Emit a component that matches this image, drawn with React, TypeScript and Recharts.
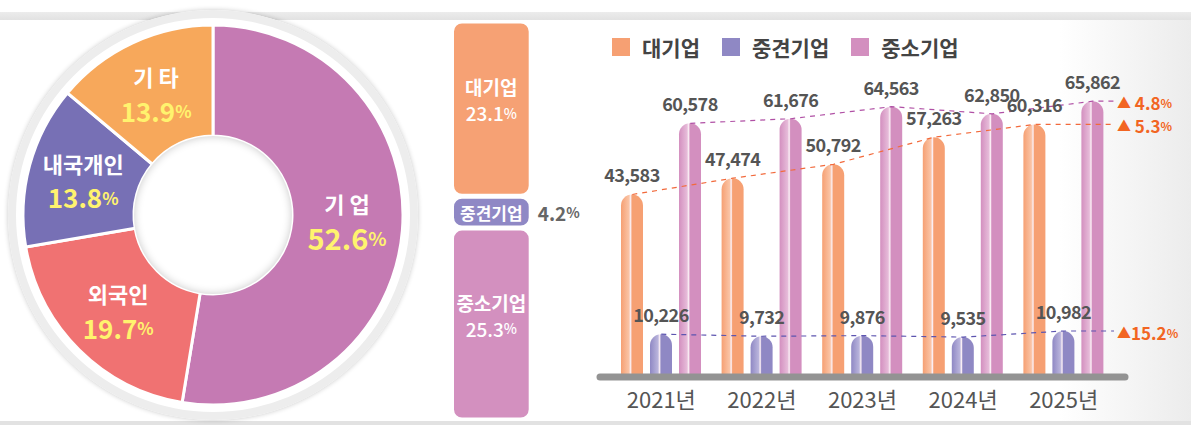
import React from "react";
import {
  PieChart,
  Pie,
  Cell,
  BarChart,
  Bar,
  ComposedChart,
  XAxis,
  YAxis,
  Line,
  LabelList,
  Rectangle,
} from "recharts";

const FONT = '"Noto Sans CJK KR", "Noto Sans", sans-serif';

// 주주 구성 (도넛)
const holderNames = ["기 업", "외국인", "내국개인", "기 타"];
const holderShares = [52.6, 19.7, 13.8, 13.9];
const holderColors = ["#c57ab3", "#f07272", "#7770b5", "#f7a85b"];

// 기업 규모별 비중 (가운데 막대)
const firmNames = ["대기업", "중견기업", "중소기업"];
const firmShares = [23.1, 4.2, 25.3];
const firmColors = ["#f6a174", "#8f88c5", "#d390bf"];

// 연도별 추이
const years = ["2021년", "2022년", "2023년", "2024년", "2025년"];
const largeFirms = [43583, 47474, 50792, 57263, 60316];
const midFirms = [10226, 9732, 9876, 9535, 10982];
const smallFirms = [60578, 61676, 64563, 62850, 65862];
const growthRates = ["5.3", "15.2", "4.8"];

const series = [
  { key: "large", name: firmNames[0], values: largeFirms, color: "#f6a073", light: "#fac4a6", line: "#f26a3c", growth: growthRates[0] },
  { key: "mid", name: firmNames[1], values: midFirms, color: "#8f88c4", light: "#b9b4dc", line: "#5d55b0", growth: growthRates[1] },
  { key: "small", name: firmNames[2], values: smallFirms, color: "#d38fbf", light: "#e6bbd9", line: "#b050a5", growth: growthRates[2] },
];

// 오른쪽 차트 치수
const W = 601;
const H = 425;
const M = { top: 42, right: 66, bottom: 0, left: 10 };
const PAD = 11;
const BAR = 22;
const GAP = 7;
const band = (W - M.left - M.right - 2 * PAD) / years.length;
const numDomain = [-PAD / band, years.length + PAD / band];

const barData = years.map((y, i) => ({
  year: y,
  large: largeFirms[i],
  mid: midFirms[i],
  small: smallFirms[i],
}));

// 추세선: 막대 중심 + 마지막 범주 끝까지 연장
const lineData = (k: number) => {
  const s = series[k];
  const shift = ((k - 1) * (BAR + GAP)) / band;
  const pts: any[] = s.values.map((v, i) => ({ x: i + 0.5 + shift, v }));
  pts.push({ x: years.length, v: s.values[s.values.length - 1], tag: s.growth });
  return pts;
};

const holderData = holderNames.map((n, i) => ({ name: n, value: holderShares[i] }));
const firmData = [{ name: "share", large: firmShares[0], mid: firmShares[1], small: firmShares[2] }];

const RADIAN = Math.PI / 180;
const holderLabel = (p: any) => {
  const r = (p.innerRadius + p.outerRadius) / 2;
  const x = p.cx + r * Math.cos(-p.midAngle * RADIAN);
  const y = p.cy + r * Math.sin(-p.midAngle * RADIAN);
  const big = p.index === 0;
  const name = p.payload?.name ?? p.name;
  return (
    <g>
      <text x={x} y={big ? y - 23 : y - 17} textAnchor="middle" dominantBaseline="central" fill="#fff" fontSize={22} fontWeight={700} fontFamily={FONT}>
        {name}
      </text>
      <text x={x} y={big ? y + 11 : y + 17} textAnchor="middle" dominantBaseline="central" fill="#fff36e" fontSize={big ? 29 : 26} fontWeight={700} fontFamily={FONT}>
        {p.value}
        <tspan fontSize={big ? 19 : 17}>%</tspan>
      </text>
    </g>
  );
};

const box = (p: any) => {
  const v = p.viewBox ?? p;
  return { x: v.x ?? p.x, y: v.y ?? p.y, w: v.width ?? p.width ?? 0, h: v.height ?? p.height ?? 0 };
};

const firmLabel = (i: number) => (p: any) => {
  const b = box(p);
  const cx = b.x + b.w / 2;
  const cy = b.y + b.h / 2;
  if (i === 1) {
    return (
      <g fontFamily={FONT} fontWeight={700}>
        <text x={cx} y={cy} textAnchor="middle" dominantBaseline="central" fill="#fff" fontSize={17}>
          {firmNames[i]}
        </text>
        <text x={b.x + b.w + 9} y={cy} dominantBaseline="central" fill="#666" fontSize={19}>
          {firmShares[i]}
          <tspan fontSize={14}>%</tspan>
        </text>
      </g>
    );
  }
  return (
    <g fontFamily={FONT} fill="#fff">
      <text x={cx} y={cy - 22} textAnchor="middle" dominantBaseline="central" fontSize={19} fontWeight={700}>
        {firmNames[i]}
      </text>
      <text x={cx} y={cy + 4} textAnchor="middle" dominantBaseline="central" fontSize={19} fontWeight={500}>
        {firmShares[i]}
        <tspan fontSize={14}>%</tspan>
      </text>
    </g>
  );
};

const firmBar = (p: any) => (
  <Rectangle x={p.x} y={p.y + 2.5} width={p.width} height={Math.max(p.height - 5, 0)} radius={8} fill={p.fill} />
);

const roundedBar = (p: any) => (
  <Rectangle
    x={p.x}
    y={p.y}
    width={p.width}
    height={Math.max(p.height - 3, 0)}
    radius={[p.width / 2, p.width / 2, 0, 0]}
    fill={p.fill}
  />
);

const growthLabel = (p: any) => {
  if (p.value == null || p.value === "") return null;
  const b = box(p);
  const spaced = p.value !== "15.2";
  return (
    <text x={b.x + 3} y={b.y + 1} dominantBaseline="central" fill="#f26522" fontFamily={FONT} fontWeight={700} fontSize={17}>
      <tspan fontSize={14}>▲</tspan>
      {spaced ? " " : ""}
      {p.value}
      <tspan fontSize={12}>%</tspan>
    </text>
  );
};

const fmt = (v: any) => Number(v).toLocaleString("en-US");

export default function App() {
  return (
    <div style={{ position: "absolute", left: 0, top: 0, width: 1191, height: 425, background: "#fff", fontFamily: FONT, overflow: "hidden" }}>
      {/* 장식 띠 */}
      <div style={{ position: "absolute", left: 0, top: 12, width: 1191, height: 8, background: "linear-gradient(#ececec, #e2e2e2)" }} />
      <div style={{ position: "absolute", left: 0, top: 421, width: 1191, height: 4, background: "#e2e2e2" }} />
      <div style={{ position: "absolute", left: 1060, top: 20, width: 131, height: 401, background: "linear-gradient(to right, rgba(240,240,240,0), #ececec)" }} />

      {/* 도넛 테두리 */}
      <div
        style={{
          position: "absolute",
          left: 8,
          top: 10,
          width: 410,
          height: 410,
          borderRadius: "50%",
          background: "#fff",
          boxShadow: "0 0 5px rgba(0,0,0,0.22), inset 0 0 0 8px #ededed",
        }}
      />
      <div style={{ position: "absolute", left: 0, top: 0 }}>
        <PieChart width={430} height={425} margin={{ top: 0, right: 0, bottom: 0, left: 0 }}>
          <Pie
            data={holderData}
            dataKey="value"
            nameKey="name"
            cx={213}
            cy={215}
            innerRadius={79}
            outerRadius={190}
            startAngle={90}
            endAngle={-270}
            stroke="#fff"
            strokeWidth={3}
            label={holderLabel}
            labelLine={false}
            isAnimationActive={false}
          >
            {holderData.map((d, i) => (
              <Cell key={d.name} fill={holderColors[i]} />
            ))}
          </Pie>
        </PieChart>
      </div>
      <div
        style={{
          position: "absolute",
          left: 213 - 79,
          top: 215 - 79,
          width: 158,
          height: 158,
          borderRadius: "50%",
          background: "#fff",
          boxShadow: "inset 0 0 8px rgba(0,0,0,0.22)",
        }}
      />

      {/* 기업 규모별 비중 */}
      <div style={{ position: "absolute", left: 440, top: 0 }}>
        <BarChart width={170} height={425} data={firmData} margin={{ top: 21, right: 77, bottom: 5, left: 10 }} barCategoryGap={0}>
          <XAxis dataKey="name" hide />
          <YAxis hide domain={[0, firmShares[0] + firmShares[1] + firmShares[2]]} />
          <Bar dataKey="small" stackId="a" fill={firmColors[2]} barSize={83} shape={firmBar} isAnimationActive={false}>
            <LabelList dataKey="small" content={firmLabel(2)} />
          </Bar>
          <Bar dataKey="mid" stackId="a" fill={firmColors[1]} barSize={83} shape={firmBar} isAnimationActive={false}>
            <LabelList dataKey="mid" content={firmLabel(1)} />
          </Bar>
          <Bar dataKey="large" stackId="a" fill={firmColors[0]} barSize={83} shape={firmBar} isAnimationActive={false}>
            <LabelList dataKey="large" content={firmLabel(0)} />
          </Bar>
        </BarChart>
      </div>

      {/* 범례 */}
      <div style={{ position: "absolute", left: 612, top: 35, display: "flex", alignItems: "center" }}>
        {series.map((s) => (
          <div key={s.key} style={{ display: "flex", alignItems: "center", marginRight: 22 }}>
            <div style={{ width: 18, height: 18, background: s.color, marginRight: 12 }} />
            <span style={{ fontSize: 21, fontWeight: 700, color: "#444", lineHeight: "24px" }}>{s.name}</span>
          </div>
        ))}
      </div>

      {/* 연도별 추이 */}
      <div style={{ position: "absolute", left: 590, top: 0 }}>
        <ComposedChart width={W} height={H} data={barData} margin={M} barGap={GAP}>
          <defs>
            {series.map((s) => (
              <linearGradient key={s.key} id={`g-${s.key}`} x1="0" y1="0" x2="1" y2="0">
                <stop offset="0" stopColor={s.color} />
                <stop offset="0.36" stopColor={s.light} />
                <stop offset="0.44" stopColor="#fbeff5" />
                <stop offset="0.5" stopColor={s.color} />
                <stop offset="1" stopColor={s.color} />
              </linearGradient>
            ))}
          </defs>
          <XAxis
            xAxisId="cat"
            dataKey="year"
            padding={{ left: PAD, right: PAD }}
            height={48}
            tickLine={false}
            tickSize={0}
            tickMargin={15}
            axisLine={{ stroke: "#939393", strokeWidth: 7, strokeLinecap: "round" }}
            tick={{ fill: "#555", fontSize: 22, fontFamily: FONT }}
          />
          <XAxis xAxisId="num" dataKey="x" type="number" domain={numDomain} allowDataOverflow hide />
          <YAxis hide domain={[0, 80000]} />
          {series.map((s, k) => (
            <Line
              key={`l-${s.key}`}
              xAxisId="num"
              data={lineData(k)}
              dataKey="v"
              stroke={s.line}
              strokeWidth={1.2}
              strokeDasharray="5 5"
              dot={false}
              activeDot={false}
              legendType="none"
              isAnimationActive={false}
            >
              <LabelList dataKey="tag" content={growthLabel} />
            </Line>
          ))}
          {series.map((s) => (
            <Bar
              key={s.key}
              xAxisId="cat"
              dataKey={s.key}
              name={s.name}
              barSize={BAR}
              fill={`url(#g-${s.key})`}
              shape={roundedBar}
              isAnimationActive={false}
            >
              <LabelList
                dataKey={s.key}
                position="top"
                offset={12}
                fill="#555"
                fontSize={18}
                fontWeight={600}
                fontFamily={FONT}
                letterSpacing={-0.6}
                formatter={fmt}
              />
            </Bar>
          ))}
        </ComposedChart>
      </div>
    </div>
  );
}
